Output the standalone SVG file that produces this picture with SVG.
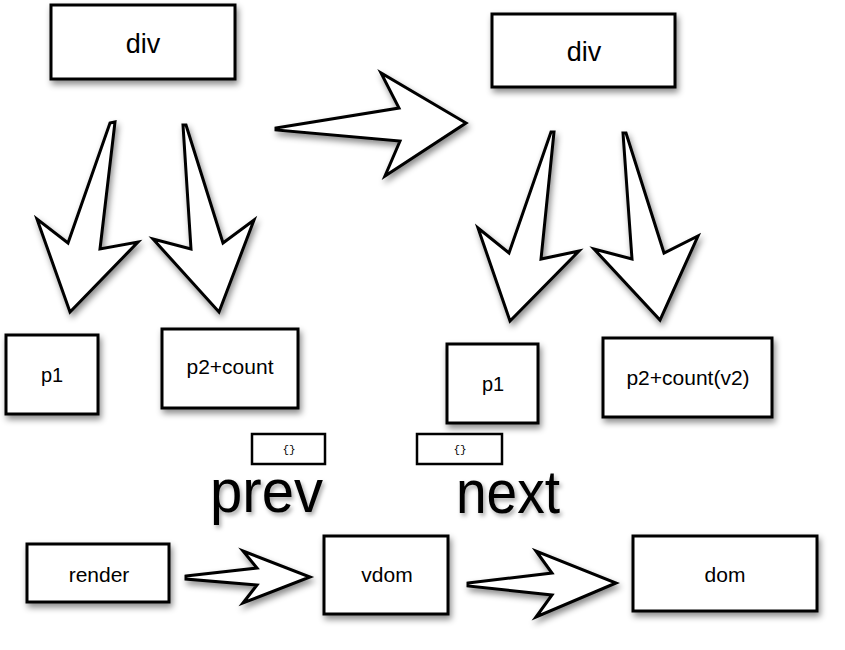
<svg xmlns="http://www.w3.org/2000/svg" width="845" height="650" viewBox="0 0 845 650">
  <defs>
    <filter id="sh" x="-20%" y="-20%" width="150%" height="160%">
      <feDropShadow dx="2" dy="4" stdDeviation="3" flood-color="#000" flood-opacity="0.45"/>
    </filter>
    <filter id="tsh" x="-10%" y="-10%" width="130%" height="140%">
      <feDropShadow dx="2" dy="3" stdDeviation="2" flood-color="#000" flood-opacity="0.35"/>
    </filter>
  </defs>
  <style>
    .box { fill: #fff; stroke: #000; stroke-width: 3; filter: url(#sh); }
    .sbox { fill: #fff; stroke: #000; stroke-width: 2.5; }
    .arrow { fill: #fff; stroke: #000; stroke-width: 3; stroke-linejoin: miter; stroke-miterlimit: 20; filter: url(#sh); }
    .lbl { font-family: "Liberation Sans", Arial, sans-serif; fill: #000; text-anchor: middle; }
    .big { font-family: "Liberation Sans", Arial, sans-serif; fill: #000; font-size: 61px; filter: url(#tsh); }
    .mono { font-family: "Liberation Mono", "DejaVu Sans Mono", monospace; font-size: 11px; text-anchor: middle; fill: #000; }
  </style>
  <rect width="845" height="650" fill="#fff"/>

  <g id="connectors">
    <polygon class="arrow" points="110,123 115,122 100,249 138,242 70,312 37,219 68,243"/>
    <polygon class="arrow" points="183,125 186,125 223,243 254,220 219,312 153,239 191,249"/>
    <polygon class="arrow" points="276,128 399,108 381,73 466,123 385,176 400,141 276,130"/>
    <polygon class="arrow" points="551,132 554,132 541,259 579,251 510,321 478,228 509,253"/>
    <polygon class="arrow" points="623,133 626,133 664,253 698,236 660,320 594,249 632,259"/>
    <polygon class="arrow" points="186,576 257,568 243,551 310,577 243,603 257,585 186,579"/>
    <polygon class="arrow" points="468,583 552,573 536,551 616,583 536,617 552,595 468,586"/>
  </g>

  <g id="div-prev">
    <rect class="box" x="51" y="5" width="184" height="74"/>
    <text class="lbl" x="143" y="53" font-size="27">div</text>
  </g>
  <g id="div-next">
    <rect class="box" x="492" y="14" width="183" height="73"/>
    <text class="lbl" x="584" y="61" font-size="27">div</text>
  </g>
  <g id="p1-prev">
    <rect class="box" x="6" y="335" width="92" height="79"/>
    <text class="lbl" x="52" y="382" font-size="20">p1</text>
  </g>
  <g id="p2-prev">
    <rect class="box" x="162" y="329" width="136" height="79"/>
    <text class="lbl" x="230" y="374" font-size="21">p2+count</text>
  </g>
  <g id="p1-next">
    <rect class="box" x="447" y="344" width="91" height="79"/>
    <text class="lbl" x="493" y="391" font-size="20">p1</text>
  </g>
  <g id="p2-next">
    <rect class="box" x="603" y="338" width="169" height="79"/>
    <text class="lbl" x="688" y="385" font-size="21">p2+count(v2)</text>
  </g>
  <g id="obj-prev">
    <rect class="sbox" x="252" y="434" width="73" height="30"/>
    <text class="mono" x="289" y="453">{}</text>
  </g>
  <g id="obj-next">
    <rect class="sbox" x="417" y="434" width="85" height="30"/>
    <text class="mono" x="460" y="453">{}</text>
  </g>
  <g id="label-prev">
    <text class="big" x="210" y="512" textLength="113" lengthAdjust="spacingAndGlyphs">prev</text>
  </g>
  <g id="label-next">
    <text class="big" x="456" y="513" textLength="104" lengthAdjust="spacingAndGlyphs">next</text>
  </g>
  <g id="render">
    <rect class="box" x="27" y="544" width="142" height="58"/>
    <text class="lbl" x="99" y="582" font-size="21">render</text>
  </g>
  <g id="vdom">
    <rect class="box" x="324" y="536" width="124" height="78"/>
    <text class="lbl" x="387" y="582" font-size="21">vdom</text>
  </g>
  <g id="dom">
    <rect class="box" x="633" y="536" width="184" height="75"/>
    <text class="lbl" x="725" y="582" font-size="21">dom</text>
  </g>
</svg>
